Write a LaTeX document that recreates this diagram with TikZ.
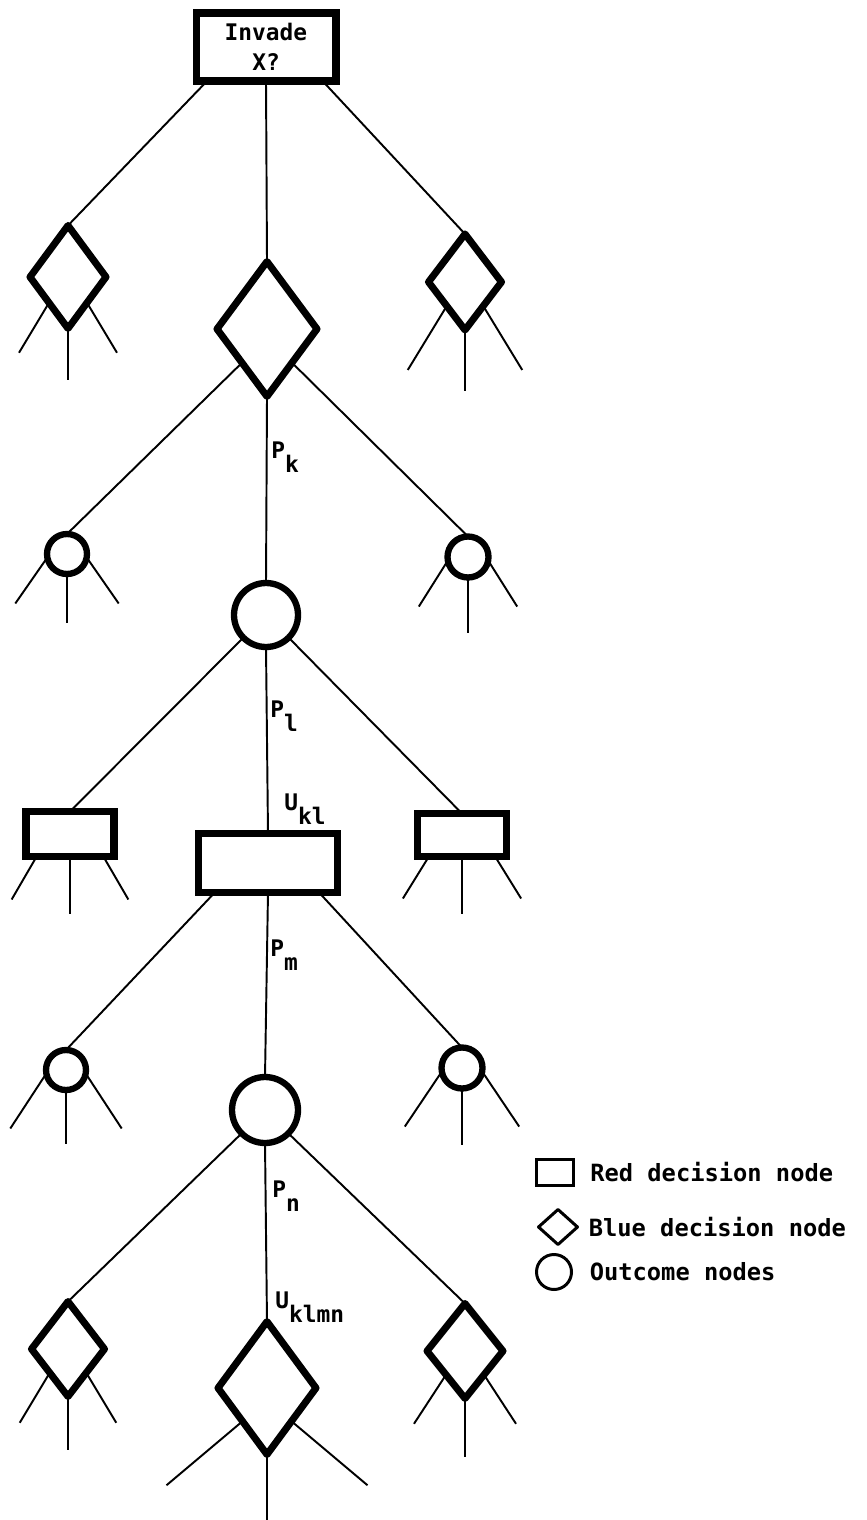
\documentclass[tikz,border=0pt]{standalone}
\usepackage{fontspec}
\newfontfamily\leroy{DejaVu Sans Mono}
\usetikzlibrary{shapes.geometric,positioning}

% index letters set low, same size as the main letter
\newcommand{\lowidx}[1]{\raisebox{-0.62em}{#1}}
% three short branches hanging below a node: node, left anchor, right anchor, dx, dy, middle length
\newcommand{\fan}[6]{%
  \draw[link] (#1.#2) -- ++(-#4,#5);
  \draw[link] (#1.south) -- ++(0,#6);
  \draw[link] (#1.#3) -- ++(#4,#5);}

\tikzset{
  link/.style={line width=1.1pt},
  reddec/.style 2 args={draw, rectangle, line width=4pt, inner sep=0pt, outer sep=0pt,
    minimum width=#1, minimum height=#2},
  bluedec/.style 2 args={draw, diamond, line width=4pt, line join=round, inner sep=0pt,
    outer sep=0pt, minimum width=#1, minimum height=#2},
  outcome/.style={draw, circle, line width=3.6pt, inner sep=0pt, outer sep=0pt, minimum size=#1},
  lab/.style={inner sep=0pt, font=\leroy\bfseries\fontsize{13}{15}\selectfont},
  keytext/.style={inner sep=0pt, font=\leroy\bfseries\fontsize{13.5}{16}\selectfont}
}

\begin{document}
\begin{tikzpicture}[x=0.02cm, y=-0.02cm]
  \useasboundingbox (0,0) rectangle (866,1520);

  % root decision
  \node[reddec={2.80cm}{1.36cm}, align=center,
    font=\leroy\bfseries\fontsize{13}{17}\selectfont] (root) at (266,47) {Invade\\X?};

  % first blue move
  \node[bluedec={1.52cm}{2.06cm}] (L1) at (68,277) {};
  \node[bluedec={2.00cm}{2.70cm}] (C1) at (267,329) {};
  \node[bluedec={1.46cm}{1.92cm}] (R1) at (465,282) {};

  % outcomes
  \node[outcome=0.80cm] (L2) at (67,554) {};
  \node[outcome=1.28cm] (C2) at (266,615) {};
  \node[outcome=0.82cm] (R2) at (468,557) {};

  % red reply
  \node[reddec={1.76cm}{0.90cm}] (L3) at (70,834) {};
  \node[reddec={2.78cm}{1.18cm}] (C3) at (268,863) {};
  \node[reddec={1.78cm}{0.86cm}] (R3) at (462,835) {};

  % outcomes
  \node[outcome=0.80cm] (L4) at (66,1070) {};
  \node[outcome=1.32cm] (C4) at (265,1110) {};
  \node[outcome=0.82cm] (R4) at (462,1068) {};

  % next blue move
  \node[bluedec={1.46cm}{1.90cm}] (L5) at (68,1349) {};
  \node[bluedec={1.96cm}{2.66cm}] (C5) at (267,1388) {};
  \node[bluedec={1.52cm}{1.90cm}] (R5) at (465,1351) {};

  % branches between levels
  \draw[link] (root.210) -- (L1.north);
  \draw[link] (root.south) -- (C1.north);
  \draw[link] (root.-31) -- (R1.north);
  \draw[link] (C1.south west) -- (L2.north);
  \draw[link] (C1.south) -- (C2.north);
  \draw[link] (C1.south east) -- (R2.north);
  \draw[link] (C2.south west) -- (L3.north);
  \draw[link] (C2.south) -- (C3.north);
  \draw[link] (C2.south east) -- (R3.north);
  \draw[link] (C3.209) -- (L4.north);
  \draw[link] (C3.south) -- (C4.north);
  \draw[link] (C3.-30) -- (R4.north);
  \draw[link] (C4.south west) -- (L5.north);
  \draw[link] (C4.south) -- (C5.north);
  \draw[link] (C4.south east) -- (R5.north);

  % loose branches
  \fan{L1}{south west}{south east}{30}{50}{52}
  \fan{R1}{south west}{south east}{39}{64}{61}
  \fan{L2}{190}{-10}{32}{46}{49}
  \fan{R2}{190}{-10}{29}{46}{55}
  \fan{L3}{214}{-34}{25}{43}{57}
  \fan{R3}{213}{-33}{26}{42}{57}
  \fan{L4}{190}{-10}{36}{55}{54}
  \fan{R4}{190}{-10}{37}{55}{56}
  \fan{L5}{south west}{south east}{30}{50}{53}
  \fan{R5}{south west}{south east}{32}{49}{58}
  \fan{C5}{south west}{south east}{76}{64}{65}

  % probabilities and utilities on the main path
  \node[lab, anchor=base west] (pk) at (271,458) {P\lowidx{k}};
  \node[lab, anchor=base west] (pl) at (270,717) {P\lowidx{l}};
  \node[lab, anchor=base west] (ukl) at (284,810) {U\lowidx{kl}};
  \node[lab, anchor=base west] (pm) at (270,956) {P\lowidx{m}};
  \node[lab, anchor=base west] (pn) at (272,1197) {P\lowidx{n}};
  \node[lab, anchor=base west] (uklmn) at (275,1308) {U\lowidx{klmn}};

  % key
  \node[reddec={0.74cm}{0.52cm}, line width=1.7pt] (keyred) at (555,1172) {};
  \node[bluedec={0.78cm}{0.70cm}, line width=1.7pt] (keyblue) at (558,1227) {};
  \node[outcome=0.70cm, line width=1.7pt] (keyout) at (554,1272) {};
  \node[keytext, right=0.33cm of keyred] (keyredtxt) {Red decision node};
  \node[keytext, right=0.22cm of keyblue] (keybluetxt) {Blue decision node};
  \node[keytext, right=0.36cm of keyout] (keyouttxt) {Outcome nodes};
\end{tikzpicture}
\end{document}
